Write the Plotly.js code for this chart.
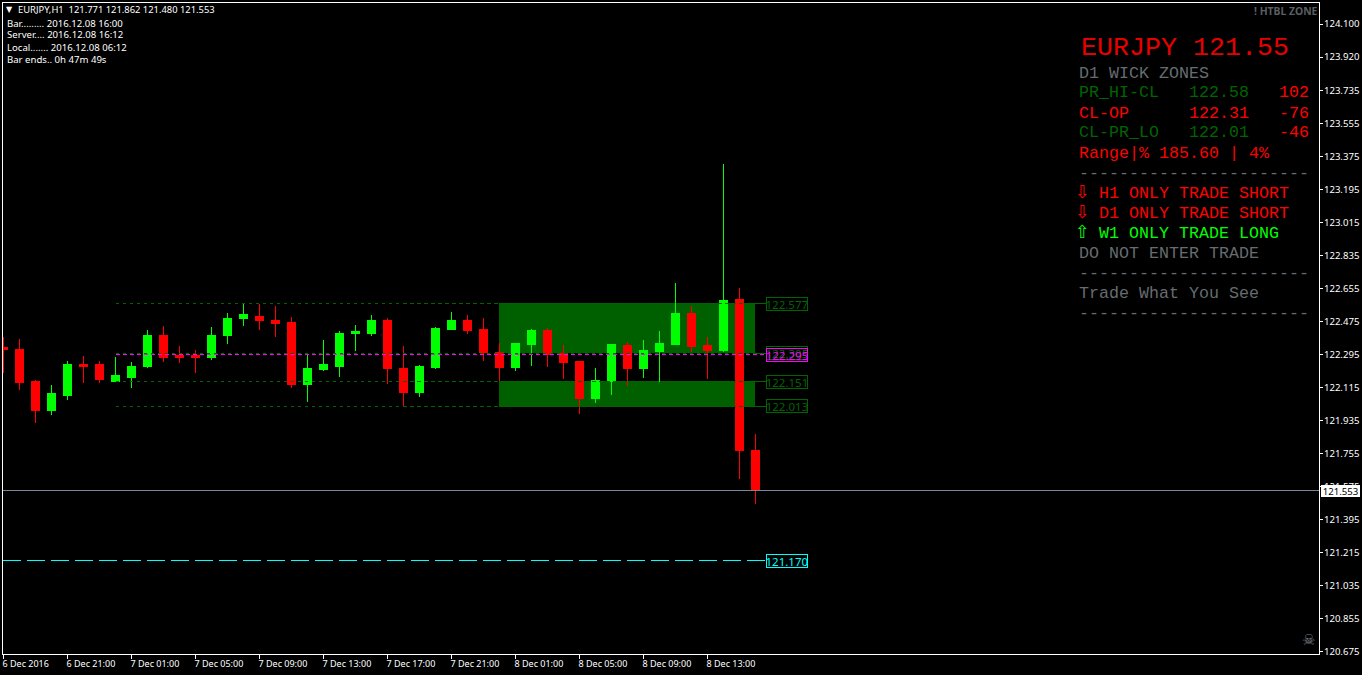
<!DOCTYPE html>
<html><head><meta charset="utf-8">
<script src="https://cdn.plot.ly/plotly-3.0.1.min.js"></script>
<style>html,body{margin:0;padding:0;background:#000;overflow:hidden}#c{width:1362px;height:675px}
.scatterlayer path.js-line,.boxlayer path,.shapelayer path{shape-rendering:crispEdges}</style>
</head><body><div id="c"></div>
<script>
const opens=[122.333,122.322,122.147,121.994,122.076,122.245,122.240,122.147,122.174,122.229,122.398,122.289,122.289,122.278,122.398,122.491,122.507,122.485,122.469,122.136,122.213,122.234,122.409,122.414,122.485,122.223,122.087,122.228,122.436,122.485,122.436,122.310,122.228,122.354,122.430,122.305,122.261,122.059,122.152,122.348,122.223,122.316,122.354,122.523,122.348,122.321,122.599,121.771];
const highs=[122.393,122.382,122.158,122.131,122.262,122.289,122.262,122.283,122.256,122.431,122.453,122.343,122.322,122.447,122.524,122.573,122.573,122.562,122.502,122.305,122.376,122.425,122.458,122.513,122.496,122.343,122.239,122.447,122.528,122.512,122.496,122.359,122.359,122.436,122.441,122.348,122.261,122.223,122.354,122.365,122.376,122.425,122.687,122.561,122.392,123.336,122.659,121.862];
const lows=[122.198,122.103,121.923,121.967,122.049,122.142,122.142,122.147,122.114,122.223,122.256,122.251,122.196,122.267,122.354,122.453,122.431,122.393,122.114,122.038,122.207,122.174,122.316,122.398,122.136,122.016,122.065,122.217,122.430,122.408,122.261,122.152,122.207,122.234,122.228,122.163,121.972,122.032,122.076,122.125,122.168,122.147,122.348,122.310,122.163,122.310,121.618,121.480];
const closes=[122.322,122.142,121.994,122.082,122.245,122.234,122.158,122.180,122.229,122.398,122.283,122.283,122.278,122.403,122.496,122.513,122.480,122.464,122.136,122.223,122.240,122.414,122.420,122.485,122.218,122.087,122.234,122.441,122.485,122.430,122.310,122.228,122.359,122.430,122.299,122.256,122.059,122.157,122.354,122.223,122.321,122.359,122.523,122.343,122.321,122.594,121.771,121.553];
const barIndex=opens.map((_,i)=>i);

const timeTickVals=[0,4,8,12,16,20,24,28,32,36,40,44];
const timeTickText=["6 Dec 2016","6 Dec 21:00","7 Dec 01:00","7 Dec 05:00","7 Dec 09:00","7 Dec 13:00","7 Dec 17:00","7 Dec 21:00","8 Dec 01:00","8 Dec 05:00","8 Dec 09:00","8 Dec 13:00"];
const priceTicks=["124.100","123.920","123.735","123.555","123.375","123.195","123.015","122.835","122.655","122.475","122.295","122.115","121.935","121.755","121.575","121.395","121.215","121.035","120.855","120.675"];

const zoneLevels=[122.577,122.305,122.151,122.013];
const overlayLevels=[122.577,122.151,122.013];
const pivotLevel=122.297;
const supportLevel=121.172;
const lastPrice=121.553;

const W=1362,H=675,L=3,R=1319,T=3,B=654;
const X0=-0.03125,X1=82.21875;
const px=x=>(x-L)/(R-L), py=y=>(B-y)/(B-T);
const mono="'Liberation Mono',monospace", ui="'Noto Sans',sans-serif";
const RED='#ff0000',DG='#006400',GRAY='#666c70',LIME='#00ff00';

const traces=[];
zoneLevels.forEach(v=>{
  traces.push({type:'scatter',mode:'lines',x:[7,47],y:[v,v],line:{color:DG,width:1,dash:'3px,4px'},hoverinfo:'skip'});
  traces.push({type:'scatter',mode:'lines',x:[47,47.7],y:[v,v],line:{color:DG,width:1},hoverinfo:'skip'});
});
traces.push({type:'scatter',mode:'lines',x:[7,47.7],y:[pivotLevel,pivotLevel],line:{color:'#ff00ff',width:1,dash:'4px,3px'},hoverinfo:'skip'});
traces.push({type:'scatter',mode:'lines',x:[X0,47.7],y:[supportLevel,supportLevel],line:{color:'#00ffff',width:1,dash:'18px,6px'},hoverinfo:'skip'});
traces.push({type:'scatter',mode:'lines',x:[X0,X1],y:[lastPrice,lastPrice],line:{color:'#778899',width:1},hoverinfo:'skip'});
traces.push({type:'candlestick',x:barIndex,open:opens,high:highs,low:lows,close:closes,whiskerwidth:0,
  increasing:{line:{color:LIME,width:1},fillcolor:LIME},decreasing:{line:{color:RED,width:1},fillcolor:RED},hoverinfo:'skip'});
overlayLevels.forEach(v=>{
  traces.push({type:'scatter',mode:'lines',x:[25,47],y:[v,v],line:{color:DG,width:1,dash:'3px,4px'},hoverinfo:'skip'});
});

const shapes=[[zoneLevels[0],zoneLevels[1]],[zoneLevels[2],zoneLevels[3]]].map(z=>({type:'rect',layer:'below',xref:'x',yref:'y',x0:30.97,x1:46.97,y0:z[0],y1:z[1],fillcolor:'#006000',line:{width:0}}));

function txt(text,x,y,color,size,font,anchor){
  return {text:text,xref:'paper',yref:'paper',x:px(x),y:py(y),xanchor:anchor||'left',yanchor:'middle',showarrow:false,
    font:{family:font||mono,size:size,color:color},borderpad:0,borderwidth:0};
}
function box(text,y,color){
  return {text:text,xref:'paper',yref:'paper',x:px(786.5),y:py(y),xanchor:'center',yanchor:'middle',showarrow:false,width:40,height:12,
    font:{family:ui,size:11.5,color:color},bordercolor:color,borderwidth:1,borderpad:0,align:'center'};
}
const dashes="-----------------------";
const ann=[
  txt("▼",6,9.5,"#fff",8,"'DejaVu Sans'"),
  txt("EURJPY,H1  121.771 121.862 121.480 121.553",18,10,"#fff",9.4,ui),
  txt("Bar......... 2016.12.08 16:00",7,23,"#fff",9.6,ui),
  txt("Server.... 2016.12.08 16:12",7,35,"#fff",9.6,ui),
  txt("Local....... 2016.12.08 06:12",7,47,"#fff",9.6,ui),
  txt("Bar ends.. 0h 47m 49s",7,59,"#fff",9.6,ui),
  txt("<b>! HTBL ZONE</b>",1318,11,"#5a5f62",10.4,ui,'right'),
  txt("EURJPY 121.55",1081,48,'#e60000',26.67),
  txt("D1 WICK ZONES",1079,73,GRAY,16.67),
  txt("PR_HI-CL",1079,93,DG,16.67),txt("122.58",1189,93,DG,16.67),txt("102",1279,93,RED,16.67),
  txt("CL-OP",1079,113,RED,16.67),txt("122.31",1189,113,RED,16.67),txt("-76",1279,113,RED,16.67),
  txt("CL-PR_LO",1079,133,DG,16.67),txt("122.01",1189,133,DG,16.67),txt("-46",1279,133,RED,16.67),
  txt("Range|% 185.60 | 4%",1079,153,RED,16.67),
  txt(dashes,1079,173,GRAY,16.67),
  txt("⇩",1074.5,191,RED,18,"'DejaVu Sans'"),txt("H1 ONLY TRADE SHORT",1099,193,RED,16.67),
  txt("⇩",1074.5,211,RED,18,"'DejaVu Sans'"),txt("D1 ONLY TRADE SHORT",1099,213,RED,16.67),
  txt("⇧",1074.5,231,LIME,18,"'DejaVu Sans'"),txt("W1 ONLY TRADE LONG",1099,233,LIME,16.67),
  txt("DO NOT ENTER TRADE",1079,253,GRAY,16.67),
  txt(dashes,1079,273,GRAY,16.67),
  txt("Trade What You See",1079,293,GRAY,16.67),
  txt(dashes,1079,313,GRAY,16.67),
  txt("☠",1308.5,639.5,"#777c80",15,"'DejaVu Sans'",'center'),
  box("122.577",303.5,DG),box("122.305",352.5,DG),box("122.295",354.5,'#ff00ff'),
  box("122.151",381.5,DG),box("122.013",406.5,DG),box("121.170",561,'#00ffff'),
  {text:"121.553",xref:'paper',yref:'paper',x:px(1340.5),y:py(491),xanchor:'center',yanchor:'middle',showarrow:false,width:39,height:12,
   bgcolor:'#fff',font:{family:ui,size:9.6,color:'#000'},borderpad:0,borderwidth:0}
];

const layout={width:W,height:H,margin:{l:L,r:W-R,t:T,b:H-B,pad:0},paper_bgcolor:'#000',plot_bgcolor:'#000',showlegend:false,boxmode:'overlay',boxgap:0.27,
  xaxis:{type:'linear',range:[X0,X1],tickmode:'array',tickvals:timeTickVals,ticktext:timeTickText,ticklabelposition:'outside right',ticklabelshift:-2,ticklabelstandoff:1,
    ticks:'outside',ticklen:4,tickcolor:'#fff',tickwidth:1,showgrid:false,zeroline:false,showline:true,linecolor:'#fff',linewidth:1,mirror:true,
    tickfont:{family:ui,size:9,color:'#fff'},tickangle:0,rangeslider:{visible:false},fixedrange:true},
  yaxis:{side:'right',type:'linear',range:[120.663,124.2146],tickmode:'array',tickvals:priceTicks.map(Number),ticktext:priceTicks,
    ticks:'outside',ticklen:3,tickcolor:'#fff',tickwidth:1,ticklabelstandoff:-1,showgrid:false,zeroline:false,showline:true,linecolor:'#fff',linewidth:1,mirror:true,
    tickfont:{family:ui,size:9.6,color:'#fff'},fixedrange:true},
  shapes:shapes,annotations:ann};
Plotly.newPlot('c',traces,layout,{staticPlot:true,displayModeBar:false});
</script></body></html>
